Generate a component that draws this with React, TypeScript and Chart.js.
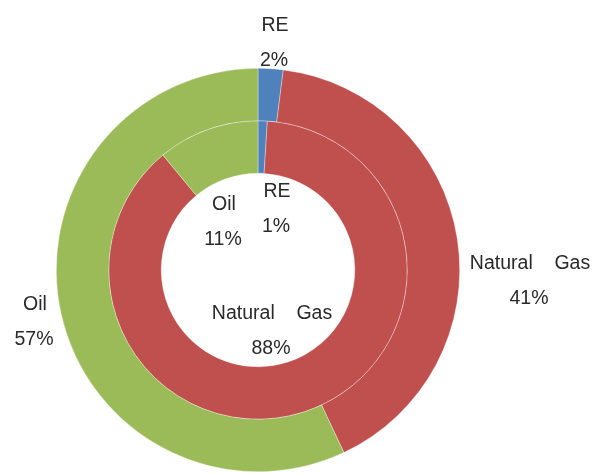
import React, { useEffect, useRef } from "react";
import { Chart, registerables } from "chart.js";

Chart.register(...registerables);

const categories = ["RE", "Natural    Gas", "Oil"];
const outerValues = [2, 41, 57];
const innerValues = [1, 88, 11];
const colors = ["#4F81BD", "#C0504D", "#9BBB59"];

// label anchor positions (offsets from the doughnut centre), style only
const outerLabelPos = [
  [17, -244],
  [272, -6],
  [-223, 35],
];
const innerLabelPos = [
  [19, -78],
  [14, 44],
  [-34, -65],
];

const labelPlugin = {
  id: "ringLabels",
  afterDatasetsDraw(chart: any) {
    const ctx = chart.ctx;
    const meta = chart.getDatasetMeta(0);
    const arc = meta.data[0];
    const cx = arc.x;
    const cy = arc.y;
    ctx.save();
    ctx.font = "19.5px 'Liberation Sans', Arial, sans-serif";
    ctx.fillStyle = "#2a2a2a";
    ctx.textAlign = "center";
    ctx.textBaseline = "middle";
    const draw = (vals: number[], pos: number[][]) => {
      vals.forEach((v, i) => {
        const x = cx + pos[i][0];
        const y = cy + pos[i][1];
        ctx.fillText(categories[i], x, y);
        ctx.fillText(v + "%", x - 1, y + 34.5);
      });
    };
    draw(outerValues, outerLabelPos);
    draw(innerValues, innerLabelPos);
    ctx.restore();
  },
};

export default function App() {
  const ref = useRef<HTMLCanvasElement>(null);
  useEffect(() => {
    if (!ref.current) return;
    const chart = new Chart(ref.current, {
      type: "doughnut",
      data: {
        labels: categories,
        datasets: [
          {
            data: outerValues,
            backgroundColor: colors,
            borderColor: "rgba(255,255,255,0.55)",
            borderWidth: 0.6,
          },
          {
            data: innerValues,
            backgroundColor: colors,
            borderColor: "rgba(255,255,255,0.55)",
            borderWidth: 0.6,
          },
        ],
      },
      options: {
        animation: false,
        responsive: true,
        maintainAspectRatio: false,
        cutout: "48%",
        layout: { padding: { left: 56, right: 140, top: 68, bottom: 2 } },
        plugins: {
          legend: { display: false },
          tooltip: { enabled: false },
        },
      },
      plugins: [labelPlugin],
    });
    return () => chart.destroy();
  }, []);
  return (
    <div style={{ position: "absolute", left: 0, top: 0, width: 600, height: 474, background: "#fff" }}>
      <canvas ref={ref} />
    </div>
  );
}
